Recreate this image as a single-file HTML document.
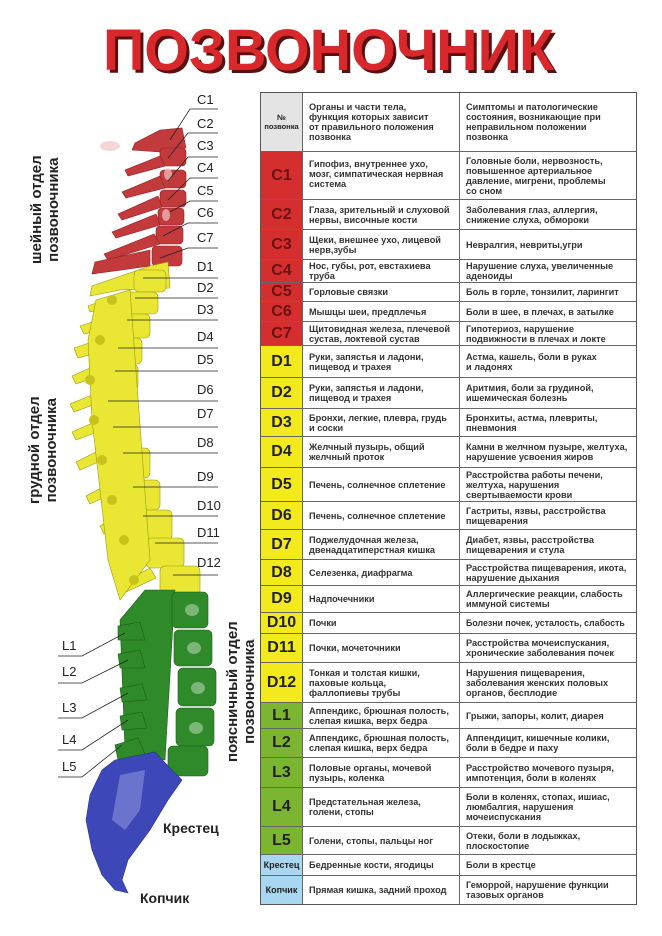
<!DOCTYPE html>
<html><head><meta charset="utf-8">
<style>
body{margin:0;width:662px;height:936px;background:#fff;position:relative;overflow:hidden;font-family:"Liberation Sans","DejaVu Sans",sans-serif}
#tbl{position:absolute;left:260px;top:92px;width:377px;height:813px;border:1.5px solid #555;box-sizing:border-box;background:#fff}
.r{position:absolute;left:0;width:100%;display:flex;border-top:1px solid #666;box-sizing:border-box}
.r>div{box-sizing:border-box;display:flex;align-items:center;font-size:9.2px;font-weight:bold;color:#333;line-height:10px;padding-left:6px;white-space:nowrap;overflow:hidden}
.a{width:42px;justify-content:center;padding-left:0!important;font-size:16px!important;color:#222!important;border-right:1px solid #666}
.b{width:157px;border-right:1px solid #666}
.c{width:176px}
.red{background:#d42e2e;color:#6b1212!important}
.yel{background:#f2ea1d}
.grn{background:#7cb52f}
.blu{background:#a9d6f0}
.lbl{position:absolute;font-size:13px;color:#222}
.vt{position:absolute;font-size:15px;font-weight:bold;color:#222;transform:rotate(-90deg);transform-origin:0 0;line-height:17px;white-space:nowrap;text-align:center}
</style></head><body>
<svg width="662" height="936" style="position:absolute;left:0;top:0">
<text x="106" y="73" font-family="Liberation Sans" font-weight="bold" font-size="58" fill="#5a1010" textLength="451" lengthAdjust="spacingAndGlyphs">ПОЗВОНОЧНИК</text>
<text x="103" y="70" font-family="Liberation Sans" font-weight="bold" font-size="58" fill="#d9282c" textLength="451" lengthAdjust="spacingAndGlyphs">ПОЗВОНОЧНИК</text>
<g fill="#c23a3c" stroke="#8e2024" stroke-width="0.6">
<path d="M160 130 L182 128 L186 148 L160 152 L132 150 L135 143 Z"/>
<rect x="160" y="148" width="26" height="18" rx="4"/>
<path d="M160 156 L125 170 L128 176 L165 166 Z"/>
<rect x="160" y="170" width="26" height="18" rx="4"/>
<path d="M160 176 L122 192 L126 198 L165 188 Z"/>
<rect x="160" y="190" width="26" height="17" rx="4"/>
<path d="M158 196 L118 214 L122 220 L162 207 Z"/>
<rect x="158" y="208" width="26" height="17" rx="4"/>
<path d="M156 214 L112 232 L116 238 L160 225 Z"/>
<rect x="156" y="226" width="27" height="18" rx="4"/>
<path d="M154 234 L104 254 L108 260 L160 244 Z"/>
<rect x="152" y="246" width="30" height="20" rx="4"/>
<path d="M150 250 L95 262 L92 274 L150 266 Z"/>
</g>
<g fill="#f0c4c4" opacity="0.7"><ellipse cx="110" cy="146" rx="10" ry="5"/><ellipse cx="168" cy="174" rx="4" ry="6"/><ellipse cx="166" cy="215" rx="4" ry="6"/></g>
<g fill="#e9e634" stroke="#9a9a10" stroke-width="0.6">
<path d="M150 266 L168 262 L170 288 L120 290 L90 296 L92 286 Z"/>
<rect x="134" y="270" width="32" height="22" rx="5"/>
<path d="M130 290 L88 306 L90 312 L132 300 Z"/>
<rect x="126" y="292" width="32" height="22" rx="5"/>
<path d="M122 312 L80 326 L84 334 L126 322 Z"/>
<rect x="118" y="314" width="32" height="24" rx="5"/>
<path d="M116 334 L74 348 L78 358 L120 346 Z"/>
<rect x="110" y="338" width="32" height="26" rx="5"/>
<path d="M108 360 L72 376 L76 384 L110 372 Z"/>
<rect x="106" y="364" width="32" height="26" rx="5"/>
<path d="M104 390 L70 404 L74 412 L106 400 Z"/>
<rect x="102" y="392" width="34" height="28" rx="5"/>
<path d="M104 418 L72 432 L76 440 L108 428 Z"/>
<rect x="106" y="420" width="34" height="28" rx="5"/>
<path d="M108 446 L76 462 L80 470 L112 456 Z"/>
<rect x="114" y="448" width="36" height="30" rx="5"/>
<path d="M116 480 L86 496 L90 504 L120 490 Z"/>
<rect x="124" y="480" width="36" height="30" rx="5"/>
<path d="M126 510 L100 526 L104 534 L130 520 Z"/>
<rect x="134" y="510" width="38" height="30" rx="5"/>
<path d="M136 540 L110 556 L116 564 L140 550 Z"/>
<rect x="146" y="538" width="38" height="30" rx="5"/>
<path d="M150 568 L120 584 L126 592 L156 578 Z"/>
<rect x="160" y="566" width="40" height="30" rx="5"/>
<path d="M96 300 L130 290 L150 560 L120 600 L108 560 L92 420 L88 340 Z"/>
</g>
<g fill="#c8c31a"><circle cx="112" cy="300" r="5"/><circle cx="100" cy="340" r="5"/><circle cx="90" cy="380" r="5"/><circle cx="94" cy="420" r="5"/><circle cx="102" cy="460" r="5"/><circle cx="112" cy="500" r="5"/><circle cx="124" cy="540" r="5"/><circle cx="134" cy="580" r="5"/></g>
<g fill="#2f8a2a" stroke="#1f5e1c" stroke-width="0.6">
<path d="M145 590 L175 590 L165 760 L125 750 L120 620 Z"/>
<rect x="172" y="592" width="36" height="36" rx="5"/>
<rect x="174" y="630" width="38" height="36" rx="5"/>
<rect x="178" y="668" width="38" height="38" rx="5"/>
<rect x="176" y="708" width="38" height="38" rx="5"/>
<rect x="168" y="746" width="40" height="30" rx="5"/>
<path d="M140 622 L118 626 L118 640 L145 640 Z"/>
<path d="M140 650 L118 654 L120 668 L145 668 Z"/>
<path d="M142 684 L120 688 L122 702 L147 700 Z"/>
<path d="M142 712 L120 716 L122 730 L147 728 Z"/>
<path d="M138 738 L115 745 L118 760 L145 754 Z"/>
</g>
<g fill="#9fc99a" opacity="0.7"><ellipse cx="192" cy="610" rx="7" ry="6"/><ellipse cx="194" cy="648" rx="7" ry="6"/><ellipse cx="198" cy="688" rx="7" ry="6"/><ellipse cx="196" cy="728" rx="7" ry="6"/></g>
<path d="M115 760 L155 752 L170 768 L182 780 L168 800 L150 830 L128 860 L122 880 L128 893 L115 890 L102 875 L92 850 L86 820 L90 795 L102 770 Z" fill="#3e47b8" stroke="#28308a" stroke-width="0.6"/>
<path d="M120 775 L145 770 L140 810 L125 830 L112 820 Z" fill="#8a92d8" opacity="0.6"/>
<g stroke="#222" stroke-width="0.8" fill="none">
<polyline points="218,109 190,109 170,140"/>
<polyline points="218,133 188,133 168,158"/>
<polyline points="218,157 188,157 168,181"/>
<polyline points="218,178 190,178 168,200"/>
<polyline points="218,201 190,201 170,212"/>
<polyline points="218,223 188,223 163,236"/>
<polyline points="218,248 188,248 160,258"/>
<line x1="218" y1="278" x2="143" y2="278"/>
<line x1="218" y1="298" x2="135" y2="298"/>
<line x1="218" y1="320" x2="127" y2="320"/>
<line x1="218" y1="348" x2="118" y2="348"/>
<line x1="218" y1="371" x2="115" y2="371"/>
<line x1="218" y1="401" x2="108" y2="401"/>
<line x1="218" y1="427" x2="113" y2="427"/>
<line x1="218" y1="453" x2="123" y2="453"/>
<line x1="218" y1="487" x2="133" y2="487"/>
<line x1="218" y1="516" x2="143" y2="516"/>
<line x1="218" y1="543" x2="155" y2="543"/>
<line x1="218" y1="575" x2="173" y2="575"/>
<polyline points="58,656 82,656 125,633"/>
<polyline points="58,683 82,683 128,660"/>
<polyline points="58,718 82,718 128,693"/>
<polyline points="58,750 82,750 128,720"/>
<polyline points="58,777 82,777 122,745"/>
</g>
</svg>
<div class="lbl" style="left:197px;top:92px">C1</div>
<div class="lbl" style="left:197px;top:116px">C2</div>
<div class="lbl" style="left:197px;top:138px">C3</div>
<div class="lbl" style="left:197px;top:160px">C4</div>
<div class="lbl" style="left:197px;top:183px">C5</div>
<div class="lbl" style="left:197px;top:205px">C6</div>
<div class="lbl" style="left:197px;top:230px">C7</div>
<div class="lbl" style="left:197px;top:259px">D1</div>
<div class="lbl" style="left:197px;top:280px">D2</div>
<div class="lbl" style="left:197px;top:302px">D3</div>
<div class="lbl" style="left:197px;top:329px">D4</div>
<div class="lbl" style="left:197px;top:352px">D5</div>
<div class="lbl" style="left:197px;top:382px">D6</div>
<div class="lbl" style="left:197px;top:406px">D7</div>
<div class="lbl" style="left:197px;top:435px">D8</div>
<div class="lbl" style="left:197px;top:469px">D9</div>
<div class="lbl" style="left:197px;top:498px">D10</div>
<div class="lbl" style="left:197px;top:525px">D11</div>
<div class="lbl" style="left:197px;top:555px">D12</div>
<div class="lbl" style="left:62px;top:638px">L1</div>
<div class="lbl" style="left:62px;top:664px">L2</div>
<div class="lbl" style="left:62px;top:700px">L3</div>
<div class="lbl" style="left:62px;top:732px">L4</div>
<div class="lbl" style="left:62px;top:759px">L5</div>
<div class="lbl" style="left:163px;top:820px;font-weight:bold;font-size:14px">Крестец</div>
<div class="lbl" style="left:140px;top:890px;font-weight:bold;font-size:14px">Копчик</div>
<div class="vt" style="left:28px;top:264px">шейный отдел<br>позвоночника</div>
<div class="vt" style="left:26px;top:504px">грудной отдел<br>позвоночника</div>
<div class="vt" style="left:224px;top:762px">поясничный отдел<br>позвоночника</div>

<div id="tbl">
<div class="r" style="top:0;height:58px;border-top:none"><div class="a" style="background:#e4e4e4;flex-direction:column;line-height:9px"><span style="font-size:8px">№</span><span style="font-size:7.5px">позвонка</span></div><div class="b">Органы и части тела,<br>функция которых зависит<br>от правильного положения<br>позвонка</div><div class="c">Симптомы и патологические<br>состояния, возникающие при<br>неправильном положении<br>позвонка</div></div>
<div class="r" style="top:58px;height:48px"><div class="a red">C1</div><div class="b" style="align-items:flex-start;padding-top:7px">Гипофиз, внутреннее ухо,<br>мозг, симпатическая нервная<br>система</div><div class="c">Головные боли, нервозность,<br>повышенное артериальное<br>давление, мигрени, проблемы<br>со сном</div></div>
<div class="r" style="top:106px;height:30px"><div class="a red">C2</div><div class="b">Глаза, зрительный и слуховой<br>нервы, височные кости</div><div class="c">Заболевания глаз, аллергия,<br>снижение слуха, обмороки</div></div>
<div class="r" style="top:136px;height:30px"><div class="a red">C3</div><div class="b">Щеки, внешнее ухо, лицевой<br>нерв,зубы</div><div class="c">Невралгия, невриты,угри</div></div>
<div class="r" style="top:166px;height:23px"><div class="a red">C4</div><div class="b">Нос, губы, рот, евстахиева<br>труба</div><div class="c">Нарушение слуха, увеличенные<br>аденоиды</div></div>
<div class="r" style="top:189px;height:19px"><div class="a red">C5</div><div class="b">Горловые связки</div><div class="c">Боль в горле, тонзилит, ларингит</div></div>
<div class="r" style="top:208px;height:20px"><div class="a red">C6</div><div class="b">Мышцы шеи, предплечья</div><div class="c">Боли в шее, в плечах, в затылке</div></div>
<div class="r" style="top:228px;height:24px"><div class="a red">C7</div><div class="b">Щитовидная железа, плечевой<br>сустав, локтевой сустав</div><div class="c">Гипотериоз, нарушение<br>подвижности в плечах и локте</div></div>
<div class="r" style="top:252px;height:32px"><div class="a yel">D1</div><div class="b">Руки, запястья и ладони,<br>пищевод и трахея</div><div class="c">Астма, кашель, боли в руках<br>и ладонях</div></div>
<div class="r" style="top:284px;height:31px"><div class="a yel">D2</div><div class="b">Руки, запястья и ладони,<br>пищевод и трахея</div><div class="c">Аритмия, боли за грудиной,<br>ишемическая болезнь</div></div>
<div class="r" style="top:315px;height:28px"><div class="a yel">D3</div><div class="b">Бронхи, легкие, плевра, грудь<br>и соски</div><div class="c">Бронхиты, астма, плевриты,<br>пневмония</div></div>
<div class="r" style="top:343px;height:31px"><div class="a yel">D4</div><div class="b">Желчный пузырь, общий<br>желчный проток</div><div class="c">Камни в желчном пузыре, желтуха,<br>нарушение усвоения жиров</div></div>
<div class="r" style="top:374px;height:34px"><div class="a yel">D5</div><div class="b">Печень, солнечное сплетение</div><div class="c">Расстройства работы печени,<br>желтуха, нарушения<br>свертываемости крови</div></div>
<div class="r" style="top:408px;height:28px"><div class="a yel">D6</div><div class="b">Печень, солнечное сплетение</div><div class="c">Гастриты, язвы, расстройства<br>пищеварения</div></div>
<div class="r" style="top:436px;height:30px"><div class="a yel">D7</div><div class="b">Поджелудочная железа,<br>двенадцатиперстная кишка</div><div class="c">Диабет, язвы, расстройства<br>пищеварения и стула</div></div>
<div class="r" style="top:466px;height:26px"><div class="a yel">D8</div><div class="b">Селезенка, диафрагма</div><div class="c">Расстройства пищеварения, икота,<br>нарушение дыхания</div></div>
<div class="r" style="top:492px;height:27px"><div class="a yel">D9</div><div class="b">Надпочечники</div><div class="c">Аллергические реакции, слабость<br>иммуной системы</div></div>
<div class="r" style="top:519px;height:21px"><div class="a yel">D10</div><div class="b">Почки</div><div class="c" style="font-size:8.8px">Болезни почек, усталость, слабость</div></div>
<div class="r" style="top:540px;height:29px"><div class="a yel">D11</div><div class="b">Почки, мочеточники</div><div class="c">Расстройства мочеиспускания,<br>хронические заболевания почек</div></div>
<div class="r" style="top:569px;height:40px"><div class="a yel">D12</div><div class="b">Тонкая и толстая кишки,<br>паховые кольца,<br>фаллопиевы трубы</div><div class="c">Нарушения пищеварения,<br>заболевания женских половых<br>органов, бесплодие</div></div>
<div class="r" style="top:609px;height:26px"><div class="a grn">L1</div><div class="b">Аппендикс, брюшная полость,<br>слепая кишка, верх бедра</div><div class="c">Грыжи, запоры, колит, диарея</div></div>
<div class="r" style="top:635px;height:29px"><div class="a grn">L2</div><div class="b">Аппендикс, брюшная полость,<br>слепая кишка, верх бедра</div><div class="c">Аппендицит, кишечные колики,<br>боли в бедре и паху</div></div>
<div class="r" style="top:664px;height:30px"><div class="a grn">L3</div><div class="b">Половые органы, мочевой<br>пузырь, коленка</div><div class="c">Расстройство мочевого пузыря,<br>импотенция, боли в коленях</div></div>
<div class="r" style="top:694px;height:39px"><div class="a grn">L4</div><div class="b">Предстательная железа,<br>голени, стопы</div><div class="c">Боли в коленях, стопах, ишиас,<br>люмбалгия, нарушения<br>мочеиспускания</div></div>
<div class="r" style="top:733px;height:28px"><div class="a grn">L5</div><div class="b">Голени, стопы, пальцы ног</div><div class="c">Отеки, боли в лодыжках,<br>плоскостопие</div></div>
<div class="r" style="top:761px;height:21px"><div class="a blu" style="font-size:9px!important">Крестец</div><div class="b">Бедренные кости, ягодицы</div><div class="c">Боли в крестце</div></div>
<div class="r" style="top:782px;height:29px"><div class="a blu" style="font-size:9px!important">Копчик</div><div class="b">Прямая кишка, задний проход</div><div class="c">Геморрой, нарушение функции<br>тазовых органов</div></div>
</div>
</body></html>
